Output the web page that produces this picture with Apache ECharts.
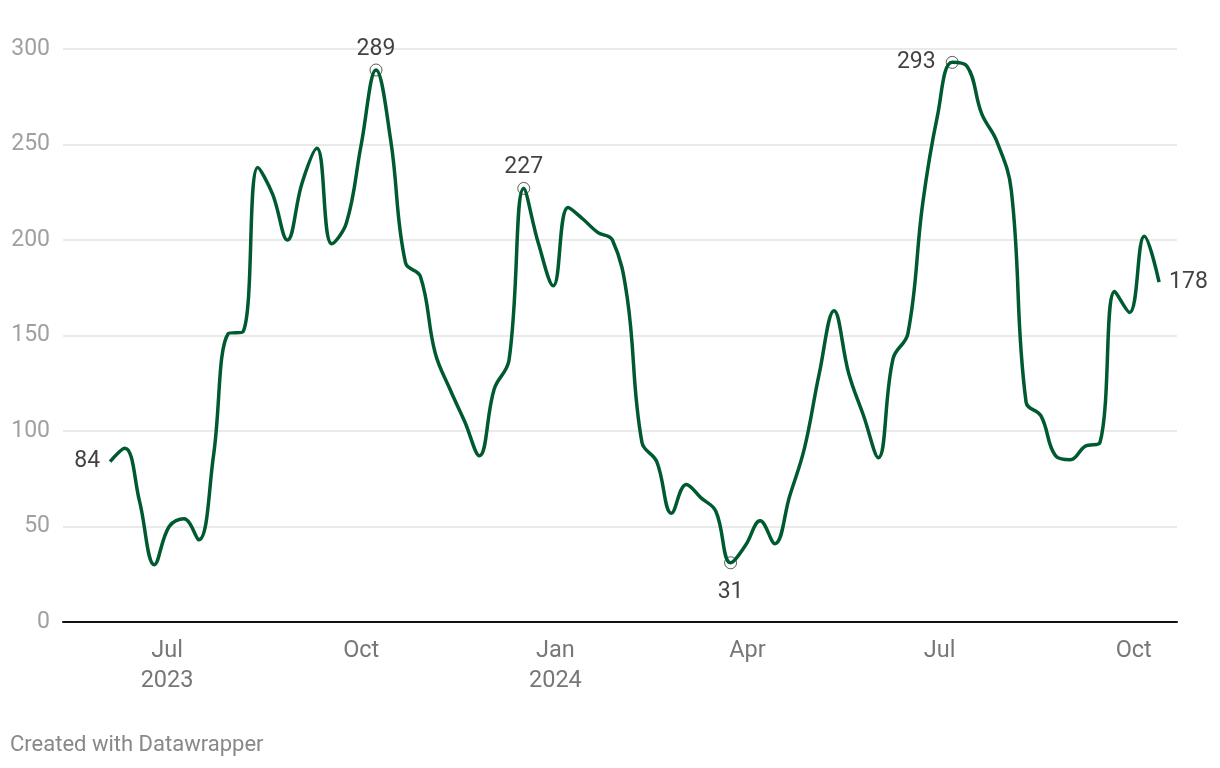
<!DOCTYPE html>
<html>
<head>
<meta charset="utf-8">
<script src="https://cdn.jsdelivr.net/npm/echarts@6/dist/echarts.min.js"></script>
<style>
html,body{margin:0;padding:0;background:#fff;}
#chart{width:1220px;height:768px;}
</style>
</head>
<body>
<div id="chart"></div>
<script>
// Weekly series, first week starting 4 Jun 2023
var startDate = [2023, 5, 4];
var values = [84, 91, 63, 30, 50, 54, 43, 87, 151, 152,
  238, 224, 200, 230, 248, 198, 209, 250, 289, 252,
  188, 181, 141, 122, 105, 87, 122, 137, 227, 198,
  176, 217, 211, 204, 200, 170, 94, 84, 57, 72,
  65, 58, 31, 40, 53, 41, 66, 91, 130, 163,
  130, 108, 86, 138, 151, 219, 265, 293, 291, 266,
  252, 226, 115, 108, 87, 85, 92, 94, 173, 162,
  202, 178];
// annotated points: index, label position
var annotIdx = [0, 18, 28, 42, 57, 71];
var annotPos = ['left', 'top', 'top', 'bottom', 'left', 'right'];
var annotCircle = [false, true, true, true, true, false];
// x-axis tick labels (quarter starts)
var tickDates = [[2023, 6, 1], [2023, 9, 1], [2024, 0, 1], [2024, 3, 1], [2024, 6, 1], [2024, 9, 1]];
var tickLabels = ['Jul\n2023', 'Oct', 'Jan\n2024', 'Apr', 'Jul', 'Oct'];
var yTicks = [0, 50, 100, 150, 200, 250, 300];

var DAY = 86400000;
var t0 = Date.UTC(startDate[0], startDate[1], startDate[2]);
var lineData = values.map(function (v, i) { return [t0 + i * 7 * DAY, v]; });
var tickVals = tickDates.map(function (d) { return Date.UTC(d[0], d[1], d[2]); });
function labelFor(v) {
  for (var i = 0; i < tickVals.length; i++) {
    if (Math.abs(tickVals[i] - v) < DAY / 2) return tickLabels[i];
  }
  return '';
}

var labelDist = { left: 10, right: 10, top: 3, bottom: 11 };
var annotData = annotIdx.map(function (idx, k) {
  var pos = annotPos[k];
  return {
    value: lineData[idx],
    symbolSize: annotCircle[k] ? 12 : 0,
    label: { position: pos, distance: labelDist[pos] }
  };
});

var chart = echarts.init(document.getElementById('chart'), null, { renderer: 'canvas' });
chart.setOption({
  animation: false,
  backgroundColor: '#ffffff',
  title: {
    text: 'Created with Datawrapper',
    left: 5, top: 729,
    textStyle: { fontFamily: 'Roboto', fontSize: 22, fontWeight: 'normal', color: '#888888' }
  },
  grid: { left: 63, right: 43, top: 49, bottom: 146, containLabel: false },
  xAxis: {
    type: 'value',
    min: t0 - 22.3 * DAY,
    max: t0 + 71 * 7 * DAY + 8.5 * DAY,
    axisLine: { show: true, onZero: false, lineStyle: { color: '#111', width: 2 } },
    axisTick: { show: false },
    splitLine: { show: false },
    axisLabel: {
      customValues: tickVals,
      formatter: function (v) { return labelFor(v); },
      fontFamily: 'Roboto', fontSize: 23.5, color: '#777', lineHeight: 30,
      margin: 14
    }
  },
  yAxis: {
    type: 'value',
    min: 0, max: 300, interval: 50,
    axisLine: { show: false },
    axisTick: { show: false },
    splitLine: { show: true, lineStyle: { color: '#e3e3e3', width: 1.5 } },
    axisLabel: { fontFamily: 'Roboto', fontSize: 23, color: '#a0a0a0', margin: 13 }
  },
  series: [
    {
      type: 'scatter',
      z: 1,
      symbol: 'circle',
      itemStyle: { color: 'rgba(255,255,255,0)', borderColor: '#333', borderWidth: 1 },
      label: {
        show: true,
        formatter: function (p) { return p.value[1]; },
        fontFamily: 'Roboto', fontSize: 23, color: '#111'
      },
      emphasis: { disabled: true },
      data: annotData
    },
    {
      type: 'line',
      z: 3,
      data: lineData,
      smooth: 0.4,
      symbol: 'none',
      lineStyle: { color: '#005a2f', width: 3.5 },
      emphasis: { disabled: true }
    }
  ]
});
</script>
</body>
</html>
